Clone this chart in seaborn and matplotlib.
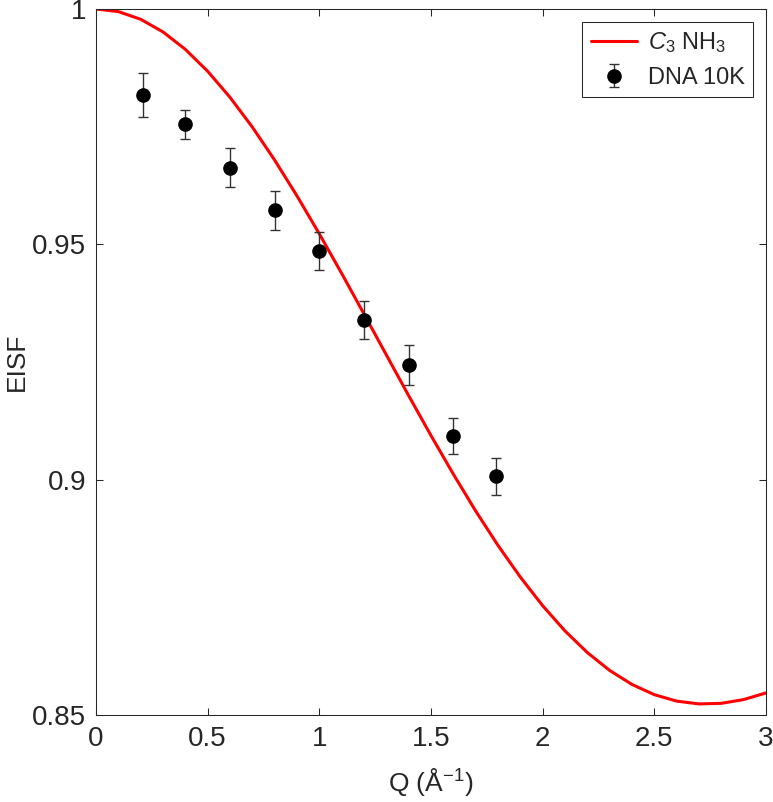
import numpy as np
import matplotlib
matplotlib.use("Agg")
import matplotlib.pyplot as plt
import seaborn as sns

# measured EISF, DNA at 10 K
q_data = [0.21, 0.40, 0.60, 0.80, 1.00, 1.20, 1.40, 1.60, 1.79]
eisf_data = [0.9818, 0.9755, 0.9663, 0.9572, 0.9486, 0.9339, 0.9244, 0.9093, 0.9007]
eisf_err = [0.0047, 0.0031, 0.0041, 0.0042, 0.0041, 0.0041, 0.0042, 0.0039, 0.0039]

# C3 NH3 rotation model curve
q_model = [0.0, 0.1, 0.2, 0.3, 0.4, 0.5, 0.6, 0.7, 0.8, 0.9, 1.0,
           1.1, 1.2, 1.3, 1.4, 1.5, 1.6, 1.7, 1.8, 1.9, 2.0,
           2.1, 2.2, 2.3, 2.4, 2.5, 2.6, 2.7, 2.8, 2.9, 3.0]
eisf_model = [1.0, 0.99945, 0.99782, 0.99513, 0.99143, 0.98677, 0.98124, 0.97491,
              0.96789, 0.96029, 0.95222, 0.94382, 0.93520, 0.92651, 0.91785,
              0.90937, 0.90118, 0.89335, 0.88603, 0.87930, 0.87322, 0.86786,
              0.86327, 0.85947, 0.85649, 0.85432, 0.85295, 0.85235, 0.85248,
              0.85328, 0.85469]

x_ticks = [0, 0.5, 1, 1.5, 2, 2.5, 3]
x_ticklabels = ["0", "0.5", "1", "1.5", "2", "2.5", "3"]
y_ticks = [0.85, 0.9, 0.95, 1.0]
y_ticklabels = ["0.85", "0.9", "0.95", "1"]

sns.set_style("ticks")
plt.rcParams["font.family"] = ["Liberation Sans", "DejaVu Sans"]
plt.rcParams["mathtext.fontset"] = "custom"
plt.rcParams["mathtext.rm"] = "Liberation Sans"
plt.rcParams["mathtext.it"] = "Liberation Sans:italic"

fig = plt.figure(figsize=(7.73, 8.02), dpi=100)
ax = fig.add_axes([96 / 773, 1 - 715 / 802, 670 / 773, 706 / 802])

sns.lineplot(x=q_model, y=eisf_model, color="red", linewidth=2.2, ax=ax,
             label=r"$\mathit{C}_{\mathit{3}}$ NH$_{3}$")
ax.errorbar(q_data, eisf_data, yerr=eisf_err, fmt="o", color="black",
            markersize=9.5, ecolor="#333333", elinewidth=1.0, capsize=3.4,
            capthick=1.0, label="DNA 10K")

ax.set_xlim(0, 3)
ax.set_ylim(0.85, 1.0)
ax.set_xticks(x_ticks)
ax.set_xticklabels(x_ticklabels)
ax.set_yticks(y_ticks)
ax.set_yticklabels(y_ticklabels)
ax.tick_params(direction="in", top=True, right=True, length=4.8, width=0.75,
               labelsize=20, color="#262626")
ax.tick_params(axis="x", pad=8)
ax.tick_params(axis="y", pad=7)
for sp in ax.spines.values():
    sp.set_linewidth(0.75)
    sp.set_color("#262626")

ax.set_xlabel(r"Q (Å$^{-1}$)", fontsize=19)
ax.set_ylabel("EISF", fontsize=19)
ax.xaxis.set_label_coords(0.5, -0.072)
ax.yaxis.set_label_coords(-0.10, 0.5)

handles, labels = ax.get_legend_handles_labels()
leg = ax.legend(handles, labels, loc="upper right", fontsize=17,
                frameon=True, fancybox=False, framealpha=1, edgecolor="#262626",
                handlelength=1.95, handletextpad=0.47, borderpad=0.35,
                labelspacing=0.5, borderaxespad=0.55)
leg.get_frame().set_linewidth(0.75)

fig.savefig("out.png", dpi=100)
